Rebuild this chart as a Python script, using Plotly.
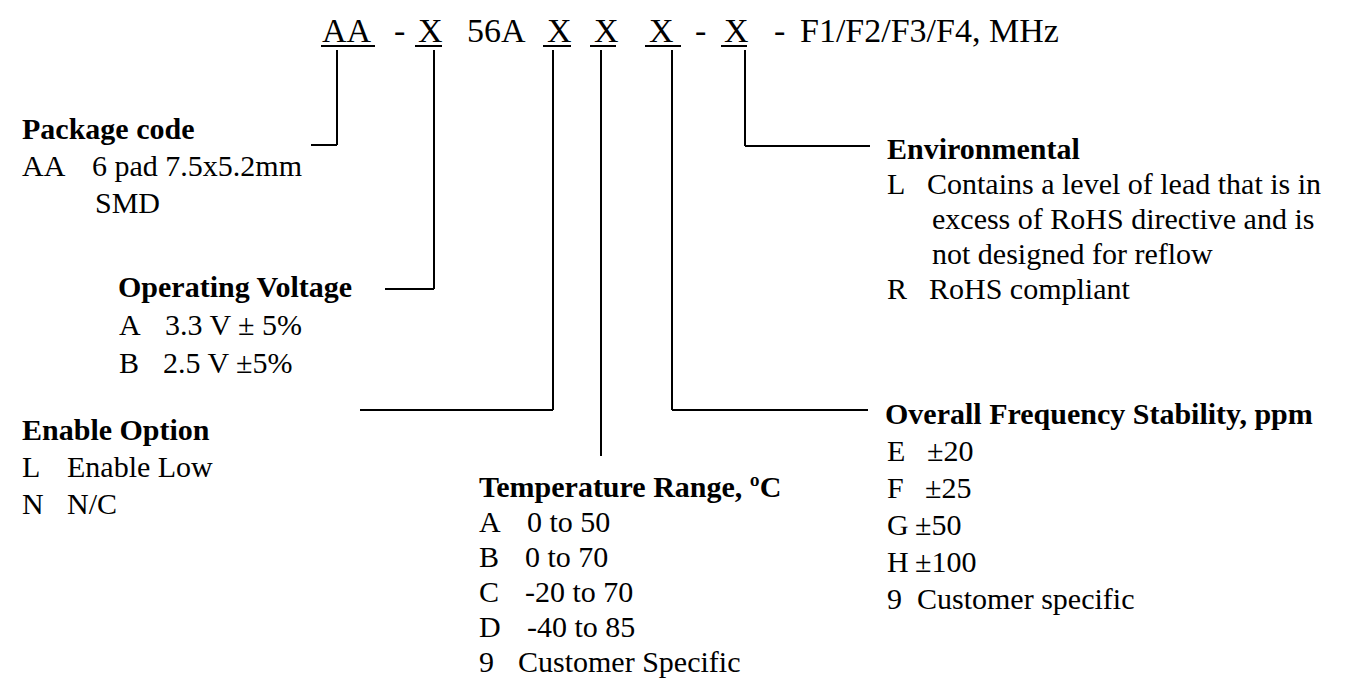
import plotly.graph_objects as go

W, H = 1350, 678
FONT = "Liberation Serif, Times New Roman, serif"
TOP_SIZE = 34
BODY_SIZE = 30

# ---- top part-number line ----
top_tokens = ["AA", "-", "X", "56A", "X", "X", "X", "-", "X", "-", "F1/F2/F3/F4, MHz"]
top_x = [312, 384, 408, 457, 537, 584, 639, 685, 714, 764, 790]
underline_x0 = [313, 407, 535, 582, 637, 713]
underline_x1 = [367, 434, 563, 608, 673, 739]

# ---- leader lines: vertical x, bottom y, horizontal end x (None = no elbow) ----
lead_vx = [329, 426, 545, 593, 664, 737]
lead_vy = [137, 281, 402, 448, 402, 138]
lead_hx = [303, 377, 352, None, 860, 862]

# ---- description blocks ----
blk_titles = ["Package code", "Operating Voltage", "Enable Option",
              "Temperature Range, ºC", "Overall Frequency Stability, ppm", "Environmental"]
blk_x = [12, 108, 12, 469, 875, 877]
blk_y = [120, 278, 421, 478, 405, 140]
blk_step = [37, 38, 37, 35, 37, 35]
blk_codes = [
    ["AA", ""],
    ["A", "B"],
    ["L", "N"],
    ["A", "B", "C", "D", "9"],
    ["E", "F", "G", "H", "9"],
    ["L", "", "", "R"],
]
code_x = [12, 109, 12, 469, 877, 877]
blk_desc = [
    ["6 pad 7.5x5.2mm", "SMD"],
    ["3.3 V ± 5%", "2.5 V ±5%"],
    ["Enable Low", "N/C"],
    ["0 to 50", "0 to 70", "-20 to 70", "-40 to 85", "Customer Specific"],
    ["±20", "±25", "±50", "±100", "Customer specific"],
    ["Contains a level of lead that is in", "excess of RoHS directive and is",
     "not designed for reflow", "RoHS compliant"],
]
desc_x = [
    [82, 85],
    [155, 153],
    [57, 57],
    [517, 515, 515, 517, 508],
    [917, 915, 905, 905, 907],
    [917, 922, 922, 919],
]

fig = go.Figure()
fig.add_trace(go.Scatter(x=[0, W], y=[0, H], mode="markers",
                         marker=dict(opacity=0), hoverinfo="skip", showlegend=False))

ann = []
for t, x in zip(top_tokens, top_x):
    ann.append(dict(x=x, y=22, text=t, showarrow=False, xanchor="left", yanchor="middle",
                    font=dict(family=FONT, size=TOP_SIZE, color="black")))

shapes = []
for a, b in zip(underline_x0, underline_x1):
    shapes.append(dict(type="line", x0=a, x1=b, y0=38, y1=38, xref="x", yref="y",
                       line=dict(color="black", width=2)))
for vx, vy, hx in zip(lead_vx, lead_vy, lead_hx):
    shapes.append(dict(type="line", x0=vx, x1=vx, y0=42, y1=vy, xref="x", yref="y",
                       line=dict(color="black", width=2)))
    if hx is not None:
        shapes.append(dict(type="line", x0=vx, x1=hx, y0=vy, y1=vy, xref="x", yref="y",
                           line=dict(color="black", width=2)))

body = dict(family=FONT, size=BODY_SIZE, color="black")
for i, title in enumerate(blk_titles):
    ann.append(dict(x=blk_x[i], y=blk_y[i], text="<b>" + title + "</b>", showarrow=False,
                    xanchor="left", yanchor="middle", font=body))
    for j, (c, d) in enumerate(zip(blk_codes[i], blk_desc[i])):
        yy = blk_y[i] + (j + 1) * blk_step[i]
        if c:
            ann.append(dict(x=code_x[i], y=yy, text=c, showarrow=False, xanchor="left",
                            yanchor="middle", font=body))
        ann.append(dict(x=desc_x[i][j], y=yy, text=d, showarrow=False, xanchor="left",
                        yanchor="middle", font=body))

fig.update_layout(
    width=W, height=H, margin=dict(l=0, r=0, t=0, b=0),
    paper_bgcolor="white", plot_bgcolor="white",
    xaxis=dict(range=[0, W], visible=False, fixedrange=True),
    yaxis=dict(range=[H, 0], visible=False, fixedrange=True),
    annotations=ann, shapes=shapes, showlegend=False,
)
fig.write_html("out.html")
